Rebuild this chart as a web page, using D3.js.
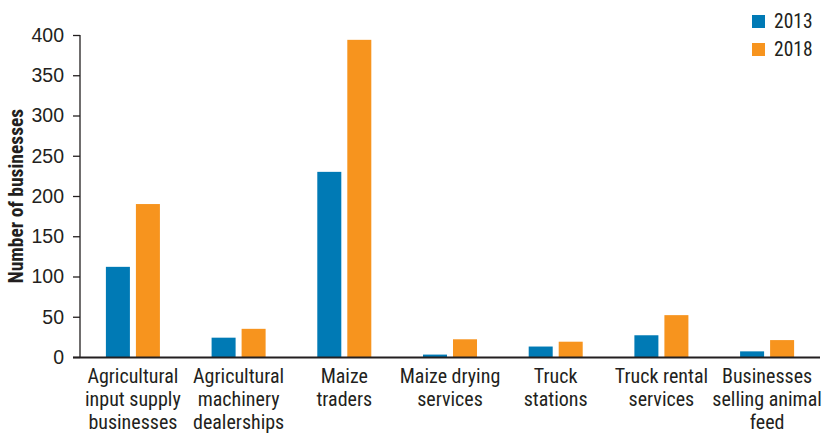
<!DOCTYPE html>
<html><head><meta charset="utf-8">
<script src="https://cdn.jsdelivr.net/npm/d3@7"></script>
<style>
body{margin:0;background:#fff;}
svg{display:block;font-family:"Liberation Sans Narrow","Arial Narrow","Roboto Condensed",sans-serif;}
</style></head><body>
<svg id="c" width="824" height="433"></svg>
<script>
const categories = [
  ["Agricultural","input supply","businesses"],
  ["Agricultural","machinery","dealerships"],
  ["Maize","traders"],
  ["Maize drying","services"],
  ["Truck","stations"],
  ["Truck rental","services"],
  ["Businesses","selling animal","feed"]
];
const seriesNames = ["2013","2018"];
const values2013 = [112, 24, 230, 3, 13, 27, 7];
const values2018 = [190, 35, 394, 22, 19, 52, 21];
const yTicks = [0,50,100,150,200,250,300,350,400];
const colors = ["#007ab5","#f7941e"];

const svg = d3.select("#c");
const m = {left:80, right:4};
const W = 824;
const x = d3.scaleBand().domain(d3.range(categories.length)).range([m.left, W-m.right]).paddingInner(0.489).paddingOuter(0.245);
const x1 = d3.scaleBand().domain(seriesNames).range([0, x.bandwidth()]).paddingInner(0.2);
const y = d3.scaleLinear().domain([0,400]).range([357, 35]);

const data = categories.map((c,i)=>({i, vals:[values2013[i], values2018[i]]}));
svg.append("g").selectAll("g.cat").data(data).join("g").attr("class","cat")
  .attr("transform", d=>`translate(${x(d.i)},0)`)
  .selectAll("rect").data(d=>d.vals.map((v,k)=>({k,v}))).join("rect")
  .attr("x", d=>x1(seriesNames[d.k])).attr("width", x1.bandwidth())
  .attr("y", d=>y(d.v)).attr("height", d=>y(0)-y(d.v))
  .attr("fill", d=>colors[d.k]);

// y axis
const ya = svg.append("g").attr("transform",`translate(${m.left},0)`)
  .call(d3.axisLeft(y).tickValues(yTicks).tickSize(7).tickPadding(9));
ya.select(".domain").attr("stroke","#231f20").attr("stroke-width",1.3).attr("d",`M0,${y(400)}V${y(0)}`);
ya.selectAll(".tick line").attr("stroke","#231f20").attr("stroke-width",1.3);
ya.selectAll(".tick text").attr("font-size",19.5).attr("fill","#231f20").attr("font-family","inherit");

// x axis baseline
svg.append("line").attr("x1",m.left-7).attr("x2",820).attr("y1",y(0)+0.5).attr("y2",y(0)+0.5)
  .attr("stroke","#231f20").attr("stroke-width",2);

// x labels
const xl = svg.append("g");
categories.forEach((lines,i)=>{
  const cx = x(i)+x.bandwidth()/2;
  const t = xl.append("text").attr("x", cx).attr("text-anchor","middle")
    .attr("font-size",20).attr("fill","#231f20");
  lines.forEach((s,j)=>t.append("tspan").attr("x", cx).attr("y", 383+j*23).text(s));
});

// y title
svg.append("text").attr("transform","translate(23,196) rotate(-90)").attr("text-anchor","middle")
  .attr("font-size",19.5).attr("font-weight","bold").attr("fill","#231f20").text("Number of businesses");

// legend
const lg = svg.append("g");
seriesNames.forEach((s,k)=>{
  lg.append("rect").attr("x",752).attr("y",15+k*28).attr("width",13).attr("height",13).attr("fill",colors[k]);
  lg.append("text").attr("x",774).attr("y",28+k*28).attr("font-size",19.5).attr("fill","#231f20").text(s);
});
</script></body></html>
